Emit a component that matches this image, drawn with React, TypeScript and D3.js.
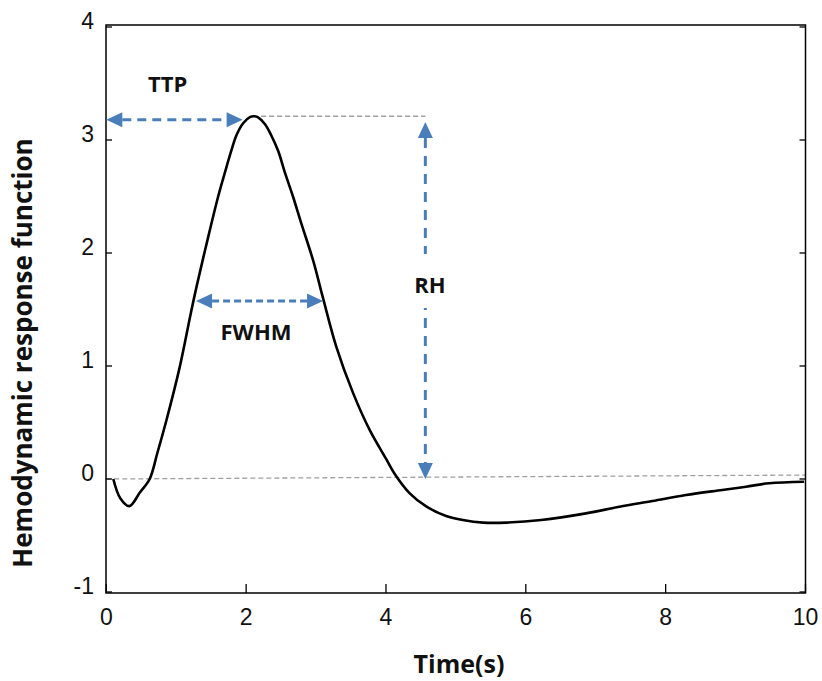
import React from "react";
import * as d3 from "d3";

const timeS = [0.1, 0.2, 0.33, 0.48, 0.62, 0.73, 0.86, 1.05, 1.2, 1.29, 1.48, 1.6, 1.7, 1.79, 1.86, 1.96, 2.06, 2.12, 2.17, 2.27, 2.36, 2.46, 2.55, 2.67, 2.79, 2.96, 3.1, 3.29, 3.53, 3.77, 4.0, 4.13, 4.34, 4.58, 4.86, 5.1, 5.39, 5.72, 6.22, 6.86, 7.34, 7.81, 8.29, 8.81, 9.15, 9.48, 9.98];
const hrf = [0.0, -0.17, -0.24, -0.12, 0.0, 0.23, 0.52, 0.99, 1.44, 1.7, 2.2, 2.5, 2.72, 2.91, 3.04, 3.15, 3.205, 3.21, 3.2, 3.14, 3.04, 2.9, 2.72, 2.5, 2.26, 1.93, 1.6, 1.17, 0.76, 0.43, 0.18, 0.04, -0.127, -0.245, -0.327, -0.363, -0.386, -0.386, -0.363, -0.304, -0.245, -0.195, -0.142, -0.097, -0.068, -0.038, -0.024];

const xTicks = [0, 2, 4, 6, 8, 10];
const yTicks = [-1, 0, 1, 2, 3, 4];

// annotation values (data coordinates)
const ttp = { t0: 0, t1: 1.95, v: 3.18 };
const fwhm = { t0: 1.284, t1: 3.1, v: 1.575 };
const rh = { t: 4.563, v0: 3.16, v1: 0.0 };
const peak = { t: 2.1, v: 3.21 };
const zeroLine = { v0: 0, v1: 0.035 };

const W = 822;
const H = 681;
const L = 106, R = 805.5, T = 25, B = 593;
const BLUE = "#4a7ebb";

export default function App() {
  const x = d3.scaleLinear().domain([0, 10]).range([106.3, 805.5]);
  const y = d3.scaleLinear().domain([-1, 4]).range([592, 27]);

  const line = d3
    .line<number>()
    .x((_, i) => x(timeS[i]))
    .y((d) => y(d))
    .curve(d3.curveCatmullRom.alpha(0.5));

  const arrowLine = (x1: number, y1: number, x2: number, y2: number, dash: string, key: string) => {
    const headL = 16;
    const dx = x2 - x1, dy = y2 - y1;
    const len = Math.hypot(dx, dy);
    const ux = dx / len, uy = dy / len;
    const px = -uy, py = ux;
    const hw = 7.5;
    const head = (tx: number, ty: number, dirx: number, diry: number) => {
      const bx = tx - dirx * headL, by = ty - diry * headL;
      return `${tx},${ty} ${bx + px * hw},${by + py * hw} ${bx - px * hw},${by - py * hw}`;
    };
    return (
      <g key={key}>
        <line
          x1={x1 + ux * headL}
          y1={y1 + uy * headL}
          x2={x2 - ux * headL}
          y2={y2 - uy * headL}
          stroke={BLUE}
          strokeWidth={3}
          strokeDasharray={dash}
        />
        <polygon points={head(x1, y1, -ux, -uy)} fill={BLUE} />
        <polygon points={head(x2, y2, ux, uy)} fill={BLUE} />
      </g>
    );
  };

  const tickFont = "'Liberation Sans', Arial, sans-serif";
  const boldFont = "'Open Sans', 'Noto Sans', sans-serif";

  return (
    <svg width={W} height={H} style={{ position: "absolute", left: 0, top: 0, background: "#fff" }}>
      <rect x={0} y={0} width={W} height={H} fill="#fff" />
      {/* zero guide */}
      <line x1={x(0)} y1={y(zeroLine.v0)} x2={x(10)} y2={y(zeroLine.v1)} stroke="#a0a0a0" strokeWidth={1.3} strokeDasharray="5,3" />
      {/* peak guide */}
      <line x1={x(peak.t)} y1={y(peak.v)} x2={x(rh.t)} y2={y(peak.v)} stroke="#a0a0a0" strokeWidth={1.3} strokeDasharray="5,3" />

      {/* curve */}
      <path d={line(hrf) || ""} fill="none" stroke="#000" strokeWidth={2.6} strokeLinejoin="round" />

      {/* frame */}
      <rect x={L} y={T} width={R - L} height={B - T} fill="none" stroke="#000" strokeWidth={1.5} />

      {/* x ticks */}
      {xTicks.map((t) => (
        <g key={"xt" + t}>
          <line x1={x(t)} x2={x(t)} y1={B} y2={B - 9} stroke="#000" strokeWidth={1.3} />
          <text x={x(t)} y={625} textAnchor="middle" fontFamily={tickFont} fontSize={23} fill="#111">
            {t}
          </text>
        </g>
      ))}
      {/* y ticks */}
      {yTicks.map((v) => (
        <g key={"yt" + v}>
          <line x1={L} x2={L + 6} y1={y(v)} y2={y(v)} stroke="#000" strokeWidth={1.3} />
          <line x1={R} x2={R - 6} y1={y(v)} y2={y(v)} stroke="#000" strokeWidth={1.3} />
          <text x={94} y={y(v) + 1.5} textAnchor="end" fontFamily={tickFont} fontSize={23} fill="#111">
            {v}
          </text>
        </g>
      ))}

      {/* arrows */}
      {arrowLine(x(ttp.t0), y(ttp.v), x(ttp.t1), y(ttp.v), "9,6", "ttp")}
      {arrowLine(x(fwhm.t0), y(fwhm.v), x(fwhm.t1), y(fwhm.v), "7,4", "fwhm")}
      {arrowLine(x(rh.t), y(rh.v0), x(rh.t), y(rh.v1), "10,8", "rh")}

      {/* RH label with white background */}
      <rect x={410} y={254} width={40} height={54} fill="#fff" />
      <text x={430} y={293} textAnchor="middle" fontFamily={boldFont} fontWeight={700} fontSize={22} fill="#111">
        RH
      </text>
      <text x={148} y={92} fontFamily={boldFont} fontWeight={700} fontSize={22} fill="#111">
        TTP
      </text>
      <text x={256} y={340} textAnchor="middle" fontFamily={boldFont} fontWeight={700} fontSize={22} fill="#111">
        FWHM
      </text>

      {/* axis titles */}
      <text x={459} y={673} textAnchor="middle" fontFamily={boldFont} fontWeight={700} fontSize={25} fill="#111">
        Time(s)
      </text>
      <text
        transform="translate(32,353) rotate(-90)"
        textAnchor="middle"
        fontFamily={boldFont}
        fontWeight={700}
        fontSize={26}
        fill="#111"
      >
        Hemodynamic response function
      </text>
    </svg>
  );
}
